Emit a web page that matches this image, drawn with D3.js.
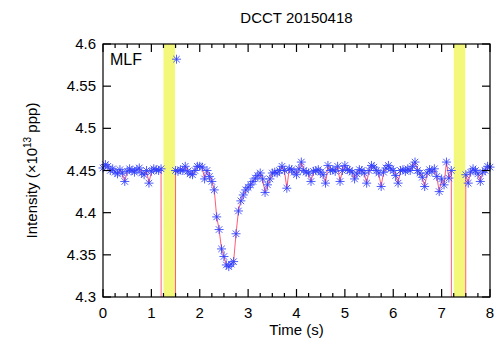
<!DOCTYPE html>
<html><head><meta charset="utf-8">
<script src="https://cdn.jsdelivr.net/npm/d3@7"></script>
<style>body{margin:0;background:#fff}svg{display:block}text{font-family:"Liberation Sans",Arial,sans-serif}</style>
</head><body><svg id="c" width="502" height="346"></svg>
<script>
const title = "DCCT 20150418";
const xTicks = [0,1,2,3,4,5,6,7,8];
const yTicks = [4.3,4.35,4.4,4.45,4.5,4.55,4.6];
const yTickLabels = ["4.3","4.35","4.4","4.45","4.5","4.55","4.6"];
const bands = [[1.25,1.49],[7.25,7.49]];
const times = [0,0.05,0.1,0.15,0.2,0.25,0.3,0.35,0.4,0.45,0.5,0.55,0.6,0.65,0.7,0.75,0.8,0.85,0.9,0.95,
1,1.05,1.1,1.15,1.2,1.25,1.3,1.35,1.4,1.45,1.5,1.55,1.6,1.65,1.7,1.75,1.8,1.85,1.9,1.95,
2,2.05,2.1,2.15,2.2,2.25,2.3,2.35,2.4,2.45,2.5,2.55,2.6,2.65,2.7,2.75,2.8,2.85,2.9,2.95,
3,3.05,3.1,3.15,3.2,3.25,3.3,3.35,3.4,3.45,3.5,3.55,3.6,3.65,3.7,3.75,3.8,3.85,3.9,3.95,
4,4.05,4.1,4.15,4.2,4.25,4.3,4.35,4.4,4.45,4.5,4.55,4.6,4.65,4.7,4.75,4.8,4.85,4.9,4.95,
5,5.05,5.1,5.15,5.2,5.25,5.3,5.35,5.4,5.45,5.5,5.55,5.6,5.65,5.7,5.75,5.8,5.85,5.9,5.95,
6,6.05,6.1,6.15,6.2,6.25,6.3,6.35,6.4,6.45,6.5,6.55,6.6,6.65,6.7,6.75,6.8,6.85,6.9,6.95,
7,7.05,7.1,7.15,7.2,7.25,7.3,7.35,7.4,7.45,7.5,7.55,7.6,7.65,7.7,7.75,7.8,7.85,7.9,7.95,8];
const intensity = [4.453,4.457,4.455,4.450,4.452,4.448,4.446,4.451,4.447,4.437,4.449,4.452,4.450,4.448,4.451,4.453,4.447,4.445,4.450,4.435,
4.449,4.452,4.451,4.450,4.452,0,0,0,0,0,4.450,4.449,4.451,4.450,4.455,4.449,4.446,4.445,4.450,4.455,
4.455,4.454,4.440,4.450,4.443,4.437,4.427,4.395,4.380,4.357,4.348,4.338,4.336,4.339,4.342,4.375,4.402,4.414,4.421,4.427,
4.430,4.433,4.437,4.441,4.444,4.447,4.440,4.424,4.433,4.440,4.447,4.448,4.447,4.450,4.455,4.450,4.429,4.452,4.451,4.448,
4.445,4.452,4.460,4.450,4.448,4.447,4.437,4.449,4.450,4.451,4.448,4.445,4.435,4.456,4.450,4.451,4.449,4.455,4.437,4.450,
4.456,4.451,4.450,4.448,4.440,4.446,4.451,4.450,4.447,4.435,4.450,4.456,4.454,4.450,4.447,4.431,4.448,4.453,4.456,4.452,
4.450,4.444,4.435,4.450,4.451,4.449,4.452,4.450,4.455,4.460,4.450,4.447,4.442,4.431,4.447,4.451,4.449,4.452,4.443,4.425,
4.440,4.433,4.460,4.441,4.450,0,0,0,0,0,4.445,4.435,4.448,4.452,4.450,4.446,4.437,4.448,4.450,4.455,4.454];
const outlierTimes = [1.52];
const outlierValues = [4.582];

const svg = d3.select("#c");
const m = {l:103, r:490, t:44, b:297};
const x = d3.scaleLinear().domain([0,8]).range([m.l,m.r]);
const y = d3.scaleLinear().domain([4.3,4.6]).range([m.b,m.t]);

svg.append("defs").append("clipPath").attr("id","clip")
  .append("rect").attr("x",m.l).attr("y",m.t).attr("width",m.r-m.l).attr("height",m.b-m.t);

// bands
svg.append("g").selectAll("rect").data(bands).join("rect")
  .attr("x",d=>x(d[0])).attr("y",m.t).attr("width",d=>x(d[1])-x(d[0])).attr("height",m.b-m.t)
  .attr("fill","#f3f77a");

const pts = times.map((t,i)=>({t, v:intensity[i]}));
// line
svg.append("path").datum(pts).attr("clip-path","url(#clip)")
  .attr("fill","none").attr("stroke","#ff5c7a").attr("stroke-width",1)
  .attr("d", d3.line().x(d=>x(d.t)).y(d=>y(d.v)));

// markers
const star = (s)=>`M${-s},0H${s}M0,${-s}V${s}M${-s*0.72},${-s*0.72}L${s*0.72},${s*0.72}M${-s*0.72},${s*0.72}L${s*0.72},${-s*0.72}`;
const mk = pts.filter(d=>d.v>=4.3).concat(outlierTimes.map((t,i)=>({t, v:outlierValues[i]})));
svg.append("g").selectAll("path").data(mk).join("path")
  .attr("transform",d=>`translate(${x(d.t)},${y(d.v)})`)
  .attr("d",star(4.5)).attr("fill","none").attr("stroke","#3040ff").attr("stroke-width",1).attr("stroke-opacity",0.85);

// frame
svg.append("rect").attr("x",m.l).attr("y",m.t).attr("width",m.r-m.l).attr("height",m.b-m.t)
  .attr("fill","none").attr("stroke","#000").attr("stroke-width",1.2);

// ticks
const g = svg.append("g").attr("stroke","#000").attr("stroke-width",1.2);
const minor = d3.range(0,8.001,0.25);
minor.forEach(t=>{
  const isMaj = Math.abs(t-Math.round(t))<1e-6;
  const L = isMaj?8:4;
  g.append("line").attr("x1",x(t)).attr("x2",x(t)).attr("y1",m.b).attr("y2",m.b-L);
  g.append("line").attr("x1",x(t)).attr("x2",x(t)).attr("y1",m.t).attr("y2",m.t+L);
});
yTicks.forEach(v=>{
  g.append("line").attr("x1",m.l).attr("x2",m.l+8).attr("y1",y(v)).attr("y2",y(v));
  g.append("line").attr("x1",m.r).attr("x2",m.r-8).attr("y1",y(v)).attr("y2",y(v));
});

// labels
svg.append("g").selectAll("text").data(xTicks).join("text")
  .attr("x",d=>x(d)).attr("y",m.b+21).attr("text-anchor","middle").attr("font-size",15).text(d=>d);
svg.append("g").selectAll("text").data(yTicks).join("text")
  .attr("x",m.l-7).attr("y",d=>y(d)+5).attr("text-anchor","end").attr("font-size",15).text((d,i)=>yTickLabels[i]);

svg.append("text").attr("x",(m.l+m.r)/2).attr("y",23).attr("text-anchor","middle").attr("font-size",15).text(title);
svg.append("text").attr("x",(m.l+m.r)/2).attr("y",335).attr("text-anchor","middle").attr("font-size",15).text("Time (s)");
svg.append("text").attr("x",110).attr("y",65).attr("font-size",16).text("MLF");

const yl = svg.append("text").attr("transform",`translate(37,${(m.t+m.b)/2}) rotate(-90)`)
  .attr("text-anchor","middle").attr("font-size",15);
yl.append("tspan").text("Intensity (×10");
yl.append("tspan").attr("font-size",10).attr("dy",-6).text("13");
yl.append("tspan").attr("dy",6).text(" ppp)");
</script></body></html>
